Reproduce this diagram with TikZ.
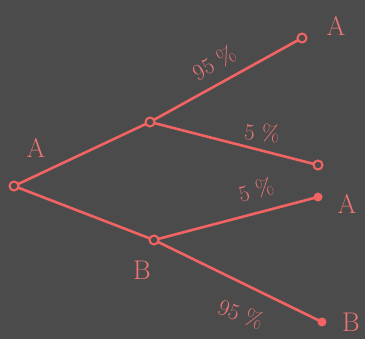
\documentclass[tikz,border=0pt]{standalone}
\usetikzlibrary{calc}
\definecolor{bg}{HTML}{4B4B4B}
\definecolor{ln}{HTML}{F26464}
\definecolor{tx}{HTML}{EC7676}
\tikzset{
  edge/.style={draw=ln, line width=2.6pt},
  opendot/.style={circle, draw=ln, line width=2pt, fill=bg, inner sep=0pt, minimum size=9pt},
  fulldot/.style={circle, fill=ln, inner sep=0pt, minimum size=9pt},
  lab/.style={text=tx, font=\fontsize{27}{30}\selectfont, inner sep=0pt},
  pct/.style={text=tx, font=\fontsize{23}{26}\selectfont, inner sep=0pt}
}
\begin{document}
\begin{tikzpicture}[x=1pt, y=-1pt]
\fill[bg] (0,0) rectangle (365,339);
\useasboundingbox (0,0) rectangle (365,339);
\coordinate (r) at (14,186);
\coordinate (u) at (150,122);
\coordinate (l) at (154,240);
\coordinate (e1) at (302,38);
\coordinate (e2) at (318,165);
\coordinate (e3) at (318,197);
\coordinate (e4) at (322,322);
\draw[edge] (r) -- (u);
\draw[edge] (r) -- (l);
\draw[edge] (u) -- (e1);
\draw[edge] (u) -- (e2);
\draw[edge] (l) -- (e3);
\draw[edge] (l) -- (e4);
\node[opendot] (nr) at (r) {};
\node[opendot] (nu) at (u) {};
\node[opendot] (nl) at (l) {};
\node[opendot] (n1) at (e1) {};
\node[opendot] (n2) at (e2) {};
\node[fulldot] (n3) at (e3) {};
\node[fulldot] (n4) at (e4) {};
\node[lab] (la) at (36,148) {A};
\node[lab] (lb) at (142,270) {B};
\node[lab] (l1) at (336,26) {A};
\node[lab] (l3) at (347,204) {A};
\node[lab] (l4) at (351,322) {B};
\node[pct, rotate=29] (p1) at (214,63) {95 \%};
\node[pct, rotate=-6] (p2) at (262,133) {5 \%};
\node[pct, rotate=14] (p3) at (256,190) {5 \%};
\node[pct, rotate=-20] (p4) at (241,314) {95 \%};
\end{tikzpicture}
\end{document}
